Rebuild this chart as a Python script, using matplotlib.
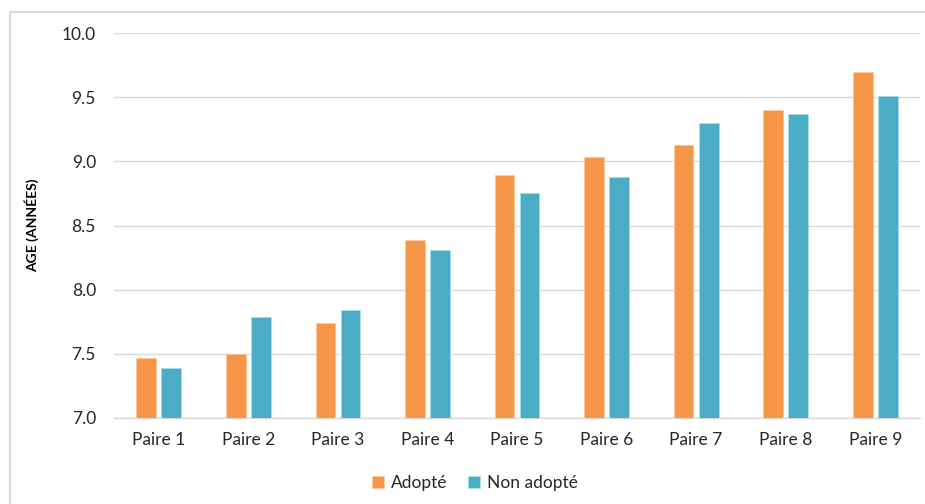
import numpy as np
import matplotlib.pyplot as plt
from matplotlib.patches import Rectangle

plt.rcParams['font.family'] = ['Lato', 'DejaVu Sans']

paires = ['Paire 1', 'Paire 2', 'Paire 3', 'Paire 4', 'Paire 5',
          'Paire 6', 'Paire 7', 'Paire 8', 'Paire 9']
adopte = [7.47, 7.50, 7.74, 8.39, 8.89, 9.03, 9.13, 9.40, 9.70]
non_adopte = [7.39, 7.79, 7.84, 8.31, 8.75, 8.88, 9.30, 9.37, 9.51]

W, H = 925, 504
fig = plt.figure(figsize=(W / 100, H / 100), dpi=100)

# chart frame (cropped on the right and bottom in the original)
fig.patches.append(Rectangle((10 / W, -0.1), 1.2, 1 - 12 / H + 0.1,
                             transform=fig.transFigure, fill=False,
                             edgecolor='#d9d9d9', linewidth=1.5))

ax = fig.add_axes([114 / W, 1 - 418 / H, (920 - 114) / W, (418 - 33) / H])

x = np.arange(len(paires))
w = 0.22
gap = 0.03
ax.bar(x - w / 2 - gap, adopte, w, color='#F79646', edgecolor='#fbc9a0',
       linewidth=0.6, label='Adopté', zorder=3)
ax.bar(x + w / 2 + gap, non_adopte, w, color='#4BACC6', edgecolor='#a9dbe8',
       linewidth=0.6, label='Non adopté', zorder=3)

ax.set_ylim(7.0, 10.0)
ax.set_xlim(-0.5, len(paires) - 0.5)
ax.set_yticks(np.arange(7.0, 10.01, 0.5))
ax.set_yticklabels([f'{v:.1f}' for v in np.arange(7.0, 10.01, 0.5)])
ax.set_xticks(x)
ax.set_xticklabels(paires)
ax.tick_params(axis='both', length=0, labelsize=12.5, colors='#262626')
ax.tick_params(axis='y', pad=13)
ax.tick_params(axis='x', pad=10)
ax.grid(axis='y', color='#d9d9d9', linewidth=1, zorder=0)
for s in ['top', 'right', 'left']:
    ax.spines[s].set_visible(False)
ax.spines['bottom'].set_color('#d9d9d9')
ax.spines['bottom'].set_linewidth(1)

fig.text(32 / W, 1 - 225 / H, 'AGE (ANNÉES)', rotation=90, ha='center',
         va='center', fontsize=10, fontweight='bold', color='#000000')

fig.legend(loc='center', bbox_to_anchor=(475 / W, 1 - 483 / H), ncol=2,
           frameon=False, fontsize=12.5, handlelength=0.7, handleheight=0.7,
           handletextpad=0.4, columnspacing=1.2, labelcolor='#262626')

fig.savefig('out.png', dpi=100)
